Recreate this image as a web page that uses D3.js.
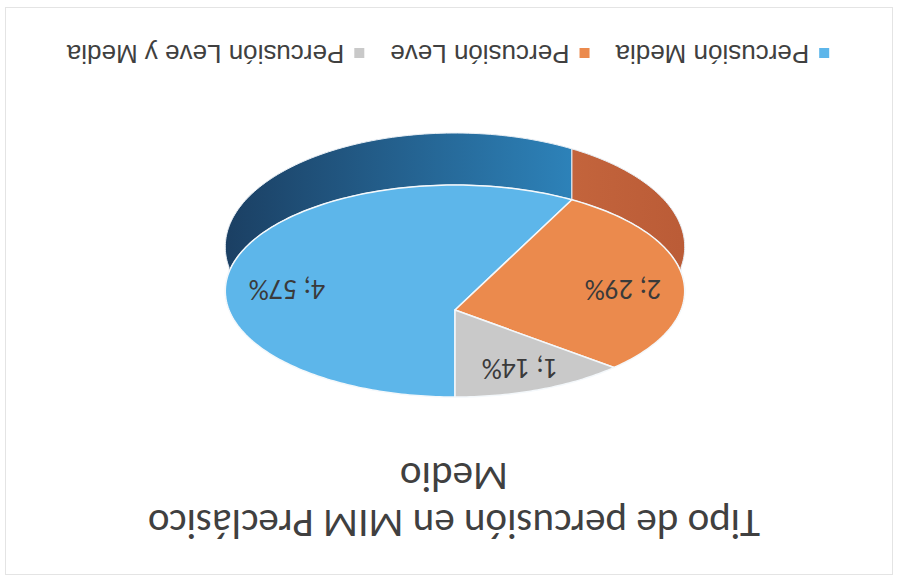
<!DOCTYPE html>
<html>
<head>
<meta charset="utf-8">
<script src="https://cdn.jsdelivr.net/npm/d3@7"></script>
<style>
  body { margin: 0; background: #fff; }
  svg { display: block; }
</style>
</head>
<body>
<div id="Chart"></div>
<script>
const categories = ["Percusión Media", "Percusión Leve", "Percusión Leve y Media"];
const counts = [4, 2, 1];
const titleLines = ["Tipo de percusión en MIM Preclásico", "Medio"];
const topColors = ["#5db6ea", "#eb8a4d", "#c9c9c9"];
const wallColors = [["#1b4064", "#2d82b9"], ["#c3643c", "#bb5c37"], ["#a9a9a9", "#a9a9a9"]];

const W = 898, H = 581;
// 3d pie geometry (drawn upright, whole chart is turned upside down like the scan)
const pie3d = {cx: 443, cy: 271, rx: 226, ry: 102.6, persp: 0.179, depth: 42.7};
const labelFont = "Carlito, Lato, 'Open Sans', sans-serif";

function project(theta, f, drop) {
  const X = Math.sin(theta) * f, Z = Math.cos(theta) * f;
  const s = 1 / (1 + pie3d.persp * Z);
  return [pie3d.cx + pie3d.rx * X * s, pie3d.cy - pie3d.ry * Z * s + (drop || 0) * s];
}

function arcPoints(a, b, drop) {
  const n = Math.max(2, Math.ceil((b - a) / 0.02));
  return d3.range(n + 1).map(i => project(a + (b - a) * i / n, 1, drop));
}

const svg = d3.select("#Chart").append("svg")
  .attr("width", W).attr("height", H);
const defs = svg.append("defs");

svg.append("rect")
  .attr("x", 5.5).attr("y", 7.5).attr("width", W - 11).attr("height", H - 14)
  .attr("fill", "#fff").attr("stroke", "#e4e4e4");

const root = svg.append("g").attr("transform", `rotate(180 ${W / 2} ${H / 2})`);

const arcs = d3.pie().sort(null).value(d => d)(counts);
const total = d3.sum(counts);
const pct = d3.format(".0%");
const line = d3.line();

// side walls (front half only)
const walls = root.append("g").attr("class", "walls");
arcs.forEach((d, i) => {
  const a = Math.max(d.startAngle, Math.PI / 2);
  const b = Math.min(d.endAngle, Math.PI * 3 / 2);
  if (a >= b) return;
  const grad = defs.append("linearGradient")
    .attr("id", "wall" + i)
    .attr("gradientUnits", "userSpaceOnUse")
    .attr("x1", project(a, 1)[0]).attr("x2", project(b, 1)[0])
    .attr("y1", 0).attr("y2", 0);
  grad.append("stop").attr("offset", 0).attr("stop-color", wallColors[i][0]);
  grad.append("stop").attr("offset", 1).attr("stop-color", wallColors[i][1]);
  const pts = arcPoints(a, b, 0).concat(arcPoints(a, b, pie3d.depth).reverse());
  walls.append("path")
    .attr("d", line(pts) + "Z")
    .attr("fill", `url(#wall${i})`)
    .attr("stroke", "#e8eef4")
    .attr("stroke-width", 1);
});

// top faces
const faces = root.append("g").attr("class", "faces");
arcs.forEach((d, i) => {
  const pts = [[pie3d.cx, pie3d.cy]].concat(arcPoints(d.startAngle, d.endAngle, 0));
  faces.append("path")
    .attr("d", line(pts) + "Z")
    .attr("fill", topColors[i])
    .attr("stroke", "#f4f8fb")
    .attr("stroke-width", 1.5)
    .attr("stroke-linejoin", "round");
});

// data labels
root.append("g").selectAll("text").data(arcs).join("text")
  .attr("x", d => project((d.startAngle + d.endAngle) / 2, 0.74)[0])
  .attr("y", d => project((d.startAngle + d.endAngle) / 2, 0.74)[1] + 3)
  .attr("text-anchor", "middle")
  .attr("dominant-baseline", "central")
  .attr("font-family", labelFont)
  .attr("font-size", 28)
  .attr("fill", "#3a3a3a")
  .text(d => `${d.data}; ${pct(d.data / total)}`);

// title
root.append("g").selectAll("text").data(titleLines).join("text")
  .attr("x", 444)
  .attr("y", (d, i) => 71 + i * 47)
  .attr("text-anchor", "middle")
  .attr("font-family", labelFont)
  .attr("font-size", 41)
  .attr("fill", "#404040")
  .text(d => d);

// legend
const legend = root.append("g").attr("class", "legend");
const items = legend.selectAll("g").data(categories).join("g");
items.append("rect")
  .attr("width", 10).attr("height", 10)
  .attr("y", 523)
  .attr("fill", (d, i) => topColors[i]);
items.append("text")
  .attr("x", 20).attr("y", 536)
  .attr("font-family", "'Liberation Sans', Arial, sans-serif")
  .attr("font-size", 26)
  .attr("fill", "#404040")
  .text(d => d);
let x = 0;
const offsets = [];
items.each(function () {
  offsets.push(x);
  x += 20 + d3.select(this).select("text").node().getComputedTextLength() + 26;
});
const legendW = x - 26;
items.attr("transform", (d, i) => `translate(${450 - legendW / 2 + offsets[i]} 0)`);
</script>
</body>
</html>
